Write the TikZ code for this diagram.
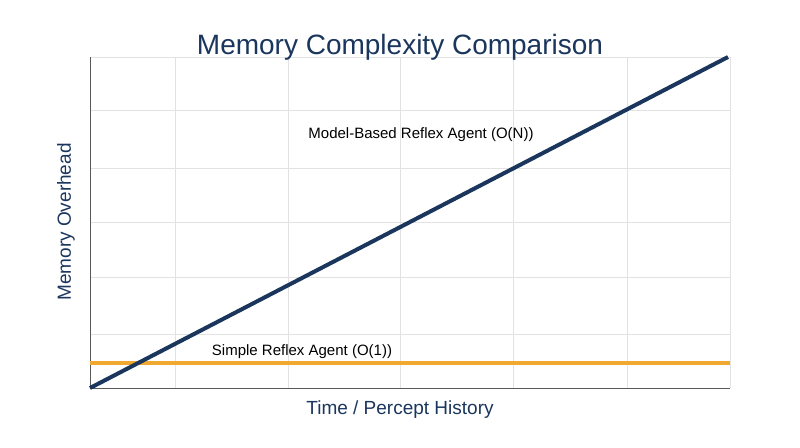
\documentclass[tikz,border=0pt]{standalone}
\usepackage{fontspec}
\setmainfont{Liberation Sans}
\definecolor{navy}{HTML}{1B365D}
\definecolor{gold}{HTML}{F0A830}
\definecolor{gridc}{HTML}{E2E2E2}
\begin{document}
\begin{tikzpicture}[x=1pt,y=-1pt,
  grid/.style={gridc,line width=0.8pt},
  lbl/.style={font=\fontsize{15}{17}\selectfont,text=black},
  axl/.style={font=\fontsize{19}{21}\selectfont,text=navy}]
\useasboundingbox[fill=white] (0,0) rectangle (800,447);
\foreach \x in {175,288,400,513,627,730} \draw[grid] (\x,57) -- (\x,388);
\foreach \y in {57,110,168,222,277,334} \draw[grid] (90,\y) -- (730,\y);
\coordinate (o) at (90,388);
\coordinate (yt) at (90,57);
\coordinate (xr) at (730,388);
\draw[gray!70!black,line width=1pt] (yt) -- (o) -- (xr);
\coordinate (s0) at (90,363); \coordinate (s1) at (730,363);
\draw[gold,line width=4pt] (s0) -- (s1);
\coordinate (m0) at (90,388); \coordinate (m1) at (728,57);
\draw[navy,line width=4pt] (m0) -- (m1);
\node[font=\fontsize{28}{31}\selectfont,text=navy] (title) at (400,47) {Memory Complexity Comparison};
\node[lbl] (mb) at (421,135) {Model-Based Reflex Agent (O(N))};
\node[lbl] (sr) at (302,352) {Simple Reflex Agent (O(1))};
\node[axl] (xl) at (400,410) {Time / Percept History};
\node[axl,rotate=90] (yl) at (66,222) {Memory Overhead};
\end{tikzpicture}
\end{document}
